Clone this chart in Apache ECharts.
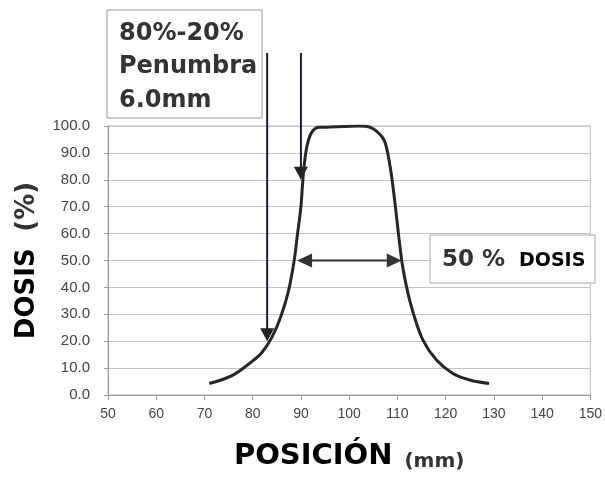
<!DOCTYPE html>
<html>
<head>
<meta charset="utf-8">
<script src="https://cdn.jsdelivr.net/npm/echarts@6/dist/echarts.min.js"></script>
<style>
  html, body { margin: 0; padding: 0; background: #fff; }
  #chart { width: 605px; height: 481px; }
</style>
</head>
<body>
<div id="chart"></div>
<script>
// perfil de dosis del haz: posicion (mm) contra dosis (%)
const posicion = [71, 75.7, 79.8, 82, 84, 85.8, 87.4, 88.6, 89.3, 90.0, 90.4, 91.0, 91.6, 92.5, 93.8,
  96, 99, 102, 104.4, 106.8, 107.7, 108.9, 110.9, 111.9, 113.3, 115.3, 118.1, 121.5, 125, 129];
const dosis = [4.3, 7.2, 12.4, 16, 21.5, 29, 38.5, 50, 60, 70, 80, 90, 95, 98.3, 99.5,
  99.6, 99.8, 100, 99.5, 96, 92.3, 80, 50, 40.2, 30.4, 20.4, 13, 8, 5.6, 4.3];

// flechas de penumbra 80%-20% y ancho al 50%
const penumbraX = [83, 90];
const penumbraPunta = [20, 80];
const anchoMitad = [89.2, 110.9];
const nivelMitad = 50;

const xMin = 50, xMax = 150, xPaso = 10;
const yMin = 0, yMax = 100, yPaso = 10;

const chart = echarts.init(document.getElementById('chart'));

const option = {
  animation: false,
  grid: {
    left: 108, right: 10, top: 126, bottom: 86,
    show: true, borderColor: '#b8b8b8', borderWidth: 1
  },
  xAxis: {
    type: 'value',
    min: xMin, max: xMax, interval: xPaso,
    axisLine: { lineStyle: { color: '#999' } },
    axisTick: { show: true, length: 5, lineStyle: { color: '#999' } },
    axisLabel: { margin: 12, color: '#444', fontSize: 14, fontFamily: 'Liberation Sans' },
    splitLine: { show: false },
    name: '{a|POSICIÓN}{b|(mm)}',
    nameLocation: 'middle',
    nameGap: 45,
    nameTextStyle: {
      rich: {
        a: { fontFamily: 'DejaVu Sans', fontWeight: 'bold', fontSize: 29, color: '#000' },
        b: { fontFamily: 'DejaVu Sans', fontWeight: 'bold', fontSize: 20, color: '#333', padding: [12, 0, 0, 12] }
      }
    }
  },
  yAxis: {
    type: 'value',
    min: yMin, max: yMax, interval: yPaso,
    axisLine: { show: true, lineStyle: { color: '#999' } },
    axisTick: { show: true, length: 4, lineStyle: { color: '#999' } },
    axisLabel: {
      margin: 18, color: '#444', fontSize: 15, fontFamily: 'Liberation Sans',
      formatter: v => v.toFixed(1)
    },
    splitLine: { lineStyle: { color: '#c4c4c4' } },
    name: '{a|DOSIS}     {b|(%)}',
    nameLocation: 'middle',
    nameGap: 68,
    nameTextStyle: {
      rich: {
        a: { fontFamily: 'DejaVu Sans', fontWeight: 'bold', fontSize: 26, color: '#000' },
        b: { fontFamily: 'DejaVu Sans', fontWeight: 'bold', fontSize: 26, color: '#333' }
      }
    }
  },
  series: [{
    type: 'line',
    data: posicion.map((x, i) => [x, dosis[i]]),
    smooth: 0.35,
    symbol: 'none',
    lineStyle: { color: '#262626', width: 3 }
  }]
};
chart.setOption(option);

// anotaciones: se calculan en pixeles a partir de los valores
function px(x, y) { return chart.convertToPixel({ gridIndex: 0 }, [x, y]); }

function flechaAbajo(x, yPunta, yArriba) {
  const p = px(x, yPunta);
  return [
    { type: 'line', shape: { x1: p[0], y1: yArriba, x2: p[0], y2: p[1] - 8 },
      style: { stroke: '#1c1c38', lineWidth: 2 } },
    { type: 'polygon', shape: { points: [[p[0] - 7, p[1] - 13], [p[0] + 7, p[1] - 13], [p[0], p[1]]] },
      style: { fill: '#222' } }
  ];
}

const graficos = [];
penumbraX.forEach((x, i) => graficos.push(...flechaAbajo(x, penumbraPunta[i], 53)));

const izq = px(anchoMitad[0], nivelMitad);
const der = px(anchoMitad[1], nivelMitad);
graficos.push(
  { type: 'line', shape: { x1: izq[0] + 8, y1: izq[1], x2: der[0] - 8, y2: der[1] },
    style: { stroke: '#333', lineWidth: 2 } },
  { type: 'polygon', shape: { points: [[izq[0], izq[1]], [izq[0] + 15, izq[1] - 7], [izq[0] + 15, izq[1] + 7]] },
    style: { fill: '#333' } },
  { type: 'polygon', shape: { points: [[der[0], der[1]], [der[0] - 15, der[1] - 7], [der[0] - 15, der[1] + 7]] },
    style: { fill: '#333' } }
);

// cuadro de penumbra
graficos.push(
  { type: 'rect', shape: { x: 107, y: 10, width: 155, height: 108 },
    style: { fill: '#fff', stroke: '#999', lineWidth: 1 }, z: 10 },
  { type: 'text', x: 119, y: 17, z: 11,
    style: { text: '80%-20%\nPenumbra\n6.0mm', fontFamily: 'DejaVu Sans', fontWeight: 'bold',
      fontSize: 24, lineHeight: 33.5, fill: '#333' } }
);

// cuadro de 50 % dosis
graficos.push(
  { type: 'rect', shape: { x: 430, y: 235, width: 165, height: 48 },
    style: { fill: '#fff', stroke: '#aaa', lineWidth: 1 }, z: 10 },
  { type: 'text', x: 442, y: 260, z: 11,
    style: { text: '50 %', fontFamily: 'DejaVu Sans', fontWeight: 'bold', fontSize: 23,
      fill: '#333', verticalAlign: 'middle' } },
  { type: 'text', x: 519, y: 261, z: 11,
    style: { text: 'DOSIS', fontFamily: 'DejaVu Sans', fontWeight: 'bold', fontSize: 19,
      fill: '#000', verticalAlign: 'middle' } }
);

chart.setOption({ graphic: graficos });
</script>
</body>
</html>
